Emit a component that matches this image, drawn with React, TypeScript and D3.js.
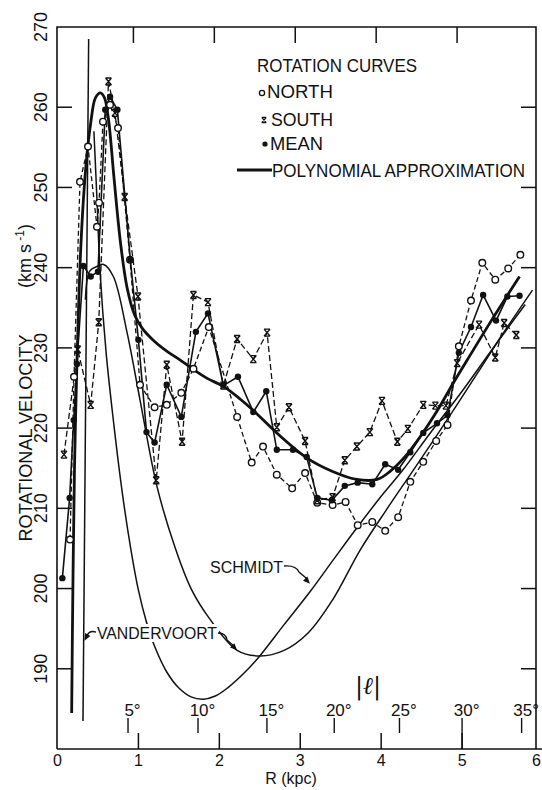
import React from 'react';
import * as d3 from 'd3';

const W = 542;
const H = 790;
const INK = '#111';
const FONT = '"Liberation Sans", Arial, sans-serif';

// axes
const rTicks = [0, 1, 2, 3, 4, 5, 6];
const vTicks = [190, 200, 210, 220, 230, 240, 250, 260, 270];
const lonTicks = [5, 10, 15, 20, 25, 30, 35];
const R0 = 10; // kpc, R = R0 sin|l|

// data [R kpc, V km/s]
const north: [number, number][] = [
  [0.155, 206.1], [0.204, 226.4], [0.278, 250.7], [0.377, 255.1], [0.488, 245.1], [0.513, 248.1],
  [0.562, 258.2], [0.649, 260.3], [0.748, 257.4], [0.896, 241.0], [1.02, 225.4], [1.2, 222.6],
  [1.35, 222.9], [1.53, 224.4], [1.68, 227.4], [1.87, 232.6], [2.22, 221.4], [2.4, 215.7],
  [2.54, 217.7], [2.71, 214.2], [2.9, 212.5], [3.06, 214.4], [3.21, 210.7], [3.4, 210.4],
  [3.56, 210.8], [3.71, 207.9], [3.89, 208.3], [4.05, 207.2], [4.21, 208.9], [4.36, 213.3],
  [4.52, 215.8], [4.68, 218.4], [4.82, 220.4], [4.96, 230.2], [5.11, 235.9], [5.25, 240.6],
  [5.41, 238.5], [5.57, 239.9], [5.72, 241.6],
];
const south: [number, number][] = [
  [0.08, 216.7], [0.25, 229.8], [0.41, 222.9], [0.51, 233.2], [0.63, 263.2], [0.71, 259.3],
  [0.83, 248.8], [0.995, 236.4], [1.22, 213.5], [1.35, 227.9], [1.54, 218.3], [1.68, 236.6],
  [1.86, 235.7], [2.05, 225.3], [2.22, 231.1], [2.42, 228.6], [2.59, 231.9], [2.71, 220.1],
  [2.86, 222.6], [3.06, 218.4], [3.21, 211.0], [3.4, 211.4], [3.55, 216.0], [3.7, 217.7],
  [3.86, 219.5], [4.01, 223.4], [4.2, 218.3], [4.33, 219.9], [4.52, 222.9], [4.67, 222.8],
  [4.8, 222.8], [4.94, 228.1], [5.21, 232.9], [5.41, 228.8], [5.52, 233.1], [5.67, 231.6],
];
const mean: [number, number][] = [
  [0.06, 201.3], [0.15, 211.3], [0.2, 221.0], [0.24, 228.0], [0.32, 240.2], [0.41, 238.9],
  [0.5, 239.5], [0.59, 259.7], [0.65, 261.3], [0.74, 259.7], [0.9, 241.0], [1.0, 231.0],
  [1.1, 219.5], [1.2, 218.2], [1.35, 225.4], [1.53, 221.4], [1.71, 232.0], [1.86, 234.3],
  [2.05, 225.3], [2.23, 226.4], [2.42, 222.0], [2.58, 224.6], [2.71, 217.3], [2.91, 217.3],
  [3.08, 216.4], [3.21, 211.3], [3.39, 211.0], [3.55, 212.8], [3.71, 213.2], [3.89, 213.0],
  [4.05, 215.5], [4.21, 214.8], [4.36, 217.0], [4.52, 219.4], [4.69, 220.6], [4.82, 221.6],
  [4.96, 229.4], [5.11, 232.6], [5.26, 236.6], [5.42, 233.4], [5.56, 236.4], [5.71, 236.5],
];
const polynomial: [number, number][] = [
  [0.175, 184.5], [0.19, 200], [0.21, 215], [0.24, 228], [0.29, 243], [0.35, 252.5], [0.41, 258],
  [0.47, 261.2], [0.53, 261.8], [0.58, 261.2], [0.63, 258.5], [0.7, 251], [0.78, 243], [0.86, 237.5],
  [0.95, 234.2], [1.05, 232.4], [1.2, 230.8], [1.35, 229.6], [1.5, 228.6], [1.68, 227.3],
  [1.85, 226.2], [2.05, 225.2], [2.26, 223.6], [2.42, 222.2], [2.71, 219.4], [3.08, 216.3],
  [3.4, 214.6], [3.7, 213.6], [3.95, 213.6], [4.11, 214.6], [4.3, 216.5], [4.5, 219.2],
  [4.7, 222.3], [4.89, 225.6], [5.1, 229.1], [5.3, 232.4], [5.5, 235.6], [5.71, 238.9],
];
const steepRise: [number, number][] = [[0.315, 183.5], [0.385, 268.5]];
const schmidt: [number, number][] = [
  [0.45, 257], [0.49, 248], [0.525, 239.7], [0.6, 229.5], [0.69, 221], [0.8, 212], [0.9, 205.3],
  [1.0, 199.8], [1.1, 195.8], [1.2, 192.8], [1.35, 189.6], [1.5, 187.6], [1.65, 186.5], [1.8, 186.2],
  [1.95, 186.6], [2.1, 187.6], [2.3, 189.4], [2.5, 191.6], [2.8, 195.5], [3.12, 199.6], [3.41, 203.6],
  [3.71, 207.7], [4.0, 211.5], [4.27, 214.8], [4.6, 219.3], [5.0, 224.6], [5.4, 230.2], [5.78, 235.4],
];
const vandervoort: [number, number][] = [
  [0.345, 236], [0.4, 239.6], [0.5, 240.2], [0.57, 240.4], [0.69, 238.9], [0.86, 231.9], [1.02, 223.5],
  [1.23, 212.7], [1.45, 205.2], [1.65, 200], [1.89, 196.1], [2.22, 192.3], [2.5, 191.6], [2.8, 192.3],
  [3.1, 194.5], [3.4, 198.6], [3.74, 204.8], [4.05, 209.6], [4.4, 214.8], [4.8, 220.8], [5.2, 227],
  [5.5, 231.7], [5.87, 237.2],
];

const x = d3.scaleLinear().domain([0, 6]).range([57.5, 543]);
const y = d3.scaleLinear().domain([180, 270]).range([749, 27]);

const straight = d3.line<[number, number]>().x(d => x(d[0])).y(d => y(d[1]));
const smooth = d3
  .line<[number, number]>()
  .x(d => x(d[0]))
  .y(d => y(d[1]))
  .curve(d3.curveCatmullRom.alpha(0.5));

const XMark = ({ cx, cy, s = 1 }: { cx: number; cy: number; s?: number }) => (
  <path
    d={`M${cx - 3 * s},${cy - 3.5 * s}L${cx + 3 * s},${cy + 3.5 * s}M${cx + 3 * s},${cy - 3.5 * s}L${cx - 3 * s},${cy + 3.5 * s}M${cx - 3 * s},${cy - 3.5 * s}H${cx + 3 * s}M${cx - 3 * s},${cy + 3.5 * s}H${cx + 3 * s}`}
    stroke={INK}
    strokeWidth={1.4}
    fill="none"
  />
);

const Arrow = ({ tip, from }: { tip: [number, number]; from: [number, number] }) => {
  const a = Math.atan2(tip[1] - from[1], tip[0] - from[0]);
  const L = 7, Wd = 3;
  const bx = tip[0] - L * Math.cos(a), by = tip[1] - L * Math.sin(a);
  const p1 = [bx + Wd * Math.sin(a), by - Wd * Math.cos(a)];
  const p2 = [bx - Wd * Math.sin(a), by + Wd * Math.cos(a)];
  return <path d={`M${tip[0]},${tip[1]}L${p1[0]},${p1[1]}L${p2[0]},${p2[1]}Z`} fill={INK} />;
};

export default function App() {
  const left = 57, top = 27, right = 536, bottom = 749;
  // annotation targets in data units
  const vvTipL: [number, number] = [x(0.32), y(193.5)];
  const vvTipR: [number, number] = [x(2.22), y(192.3)];
  const scTip: [number, number] = [x(3.12), y(200.6)];
  return (
    <svg
      width={W}
      height={H}
      style={{ position: 'absolute', left: 0, top: 0, background: '#fff' }}
      fontFamily={FONT}
    >
      <rect width={W} height={H} fill="#fff" />
      {/* frame */}
      <path
        d={`M${left},${bottom}V${top}H${right}V${bottom}`}
        stroke={INK}
        strokeWidth={1.6}
        fill="none"
      />
      <line x1={left} x2={W} y1={bottom} y2={bottom} stroke={INK} strokeWidth={1.6} />

      {/* y ticks */}
      {vTicks.map(v => (
        <g key={v}>
          {v < 270 && (
            <>
              <line x1={left} x2={left + 15} y1={y(v)} y2={y(v)} stroke={INK} strokeWidth={1.5} />
              <line x1={right} x2={right - 15} y1={y(v)} y2={y(v)} stroke={INK} strokeWidth={1.5} />
            </>
          )}
          <text
            transform={`translate(47,${y(v)}) rotate(-90)`}
            textAnchor="middle"
            fontSize={18}
            fill={INK}
          >
            {v}
          </text>
        </g>
      ))}
      <text transform="translate(32,438) rotate(-90)" textAnchor="middle" fontSize={18} fill={INK} textLength={207} lengthAdjust="spacingAndGlyphs">
        ROTATIONAL VELOCITY
      </text>
      <text transform="translate(31,256) rotate(-90)" textAnchor="middle" fontSize={18} fill={INK}>
        (km s<tspan fontSize={12} dy={-7}> -1</tspan><tspan dy={7}>)</tspan>
      </text>

      {/* R ticks */}
      {rTicks.map(r => (
        <g key={r}>
          {r > 0 && r < 6 && (
            <>
              <line x1={x(r)} x2={x(r)} y1={bottom} y2={bottom - 16} stroke={INK} strokeWidth={1.5} />
              <line x1={x(r) - 5} x2={x(r) - 5} y1={top} y2={top + 16} stroke={INK} strokeWidth={1.5} />
            </>
          )}
          <text
            x={r === 6 ? W - 1 : x(r)}
            y={766}
            textAnchor={r === 6 ? 'end' : 'middle'}
            fontSize={16}
            fill={INK}
          >
            {r}
          </text>
        </g>
      ))}
      <text x={291} y={784} textAnchor="middle" fontSize={16} fill={INK}>
        R (kpc)
      </text>

      {/* longitude ticks */}
      {lonTicks.map(l => {
        const px = x(R0 * Math.sin((l * Math.PI) / 180));
        return (
          <g key={l}>
            <line x1={px} x2={px} y1={718} y2={l === 30 ? bottom : 733} stroke={INK} strokeWidth={1.4} />
            <text x={px + 4.5} y={716} textAnchor="middle" fontSize={17} fill={INK}>
              {l}°
            </text>
          </g>
        );
      })}
      <text x={368} y={694} textAnchor="middle" fontSize={24} fill={INK} fontStyle="italic" fontFamily='"DejaVu Serif", serif'>
        |ℓ|
      </text>

      {/* model curves */}
      <path d={straight(steepRise) || ''} stroke={INK} strokeWidth={1.5} fill="none" />
      <path d={smooth(schmidt) || ''} stroke={INK} strokeWidth={1.5} fill="none" />
      <path d={smooth(vandervoort) || ''} stroke={INK} strokeWidth={1.5} fill="none" />
      <path d={smooth(polynomial) || ''} stroke={INK} strokeWidth={2.8} fill="none" />

      {/* data lines */}
      <path d={straight(north) || ''} stroke={INK} strokeWidth={1.3} strokeDasharray="5,3" fill="none" />
      <path d={straight(south) || ''} stroke={INK} strokeWidth={1.3} strokeDasharray="6,3" fill="none" />
      <path d={straight(mean) || ''} stroke={INK} strokeWidth={1.6} fill="none" />
      {north.map((d, i) => (
        <circle key={'n' + i} cx={x(d[0])} cy={y(d[1])} r={3.3} fill="#fff" stroke={INK} strokeWidth={1.4} />
      ))}
      {south.map((d, i) => (
        <XMark key={'s' + i} cx={x(d[0])} cy={y(d[1])} />
      ))}
      {mean.map((d, i) => (
        <circle key={'m' + i} cx={x(d[0])} cy={y(d[1])} r={3.2} fill={INK} />
      ))}

      {/* annotations */}
      <rect x={95} y={624} width={124} height={18} fill="#fff" />
      <text x={97} y={639} fontSize={16} fill={INK} textLength={120} lengthAdjust="spacingAndGlyphs">
        VANDERVOORT
      </text>
      <path d={`M96,632 Q89,630 87,636 L${vvTipL[0] + 2},${vvTipL[1] - 5}`} stroke={INK} strokeWidth={1.3} fill="none" />
      <Arrow tip={[vvTipL[0] + 1, vvTipL[1]]} from={[87, 636]} />
      <path d={`M218,633 Q226,633 227,640 L${vvTipR[0] - 3},${vvTipR[1] - 4}`} stroke={INK} strokeWidth={1.3} fill="none" />
      <Arrow tip={vvTipR} from={[227, 640]} />
      <rect x={208} y={558} width={77} height={18} fill="#fff" />
      <text x={210} y={573} fontSize={16} fill={INK} textLength={73} lengthAdjust="spacingAndGlyphs">
        SCHMIDT
      </text>
      <path d={`M284,566 Q296,565 299,572 L${scTip[0] - 3},${scTip[1] - 5}`} stroke={INK} strokeWidth={1.3} fill="none" />
      <Arrow tip={scTip} from={[299, 572]} />

      {/* legend */}
      <text x={257} y={72} fontSize={18} fill={INK} textLength={160} lengthAdjust="spacingAndGlyphs">
        ROTATION CURVES
      </text>
      <circle cx={262} cy={93} r={2.6} fill="#fff" stroke={INK} strokeWidth={1.3} />
      <text x={267} y={98} fontSize={18} fill={INK} textLength={66} lengthAdjust="spacingAndGlyphs">
        NORTH
      </text>
      <XMark cx={264} cy={120} s={0.75} />
      <text x={271} y={126} fontSize={18} fill={INK} textLength={62} lengthAdjust="spacingAndGlyphs">
        SOUTH
      </text>
      <circle cx={265} cy={144} r={2.6} fill={INK} />
      <text x={270} y={150} fontSize={18} fill={INK} textLength={53} lengthAdjust="spacingAndGlyphs">
        MEAN
      </text>
      <line x1={237} x2={272} y1={170} y2={170} stroke={INK} strokeWidth={2.8} />
      <text x={272} y={177} fontSize={18} fill={INK} textLength={253} lengthAdjust="spacingAndGlyphs">
        POLYNOMIAL APPROXIMATION
      </text>
    </svg>
  );
}
